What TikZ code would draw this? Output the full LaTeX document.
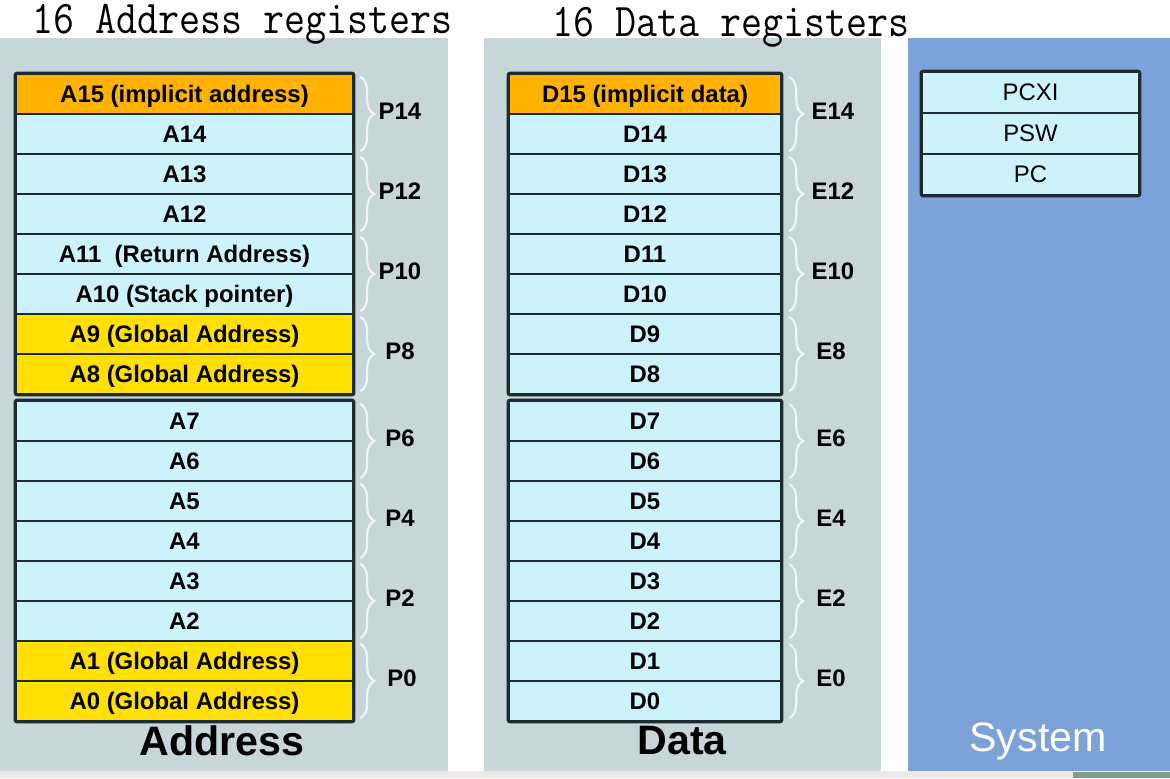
\documentclass[tikz,border=0pt]{standalone}
\usepackage{fontspec}
\setmainfont{Liberation Sans}
\usepackage{tikz}
\usetikzlibrary{decorations.pathreplacing}

\definecolor{panel}{HTML}{C6D6D9}
\definecolor{syspanel}{HTML}{7DA2D8}
\definecolor{regfill}{HTML}{CCF3FB}
\definecolor{implicit}{HTML}{FFB300}
\definecolor{global}{HTML}{FFE000}
\definecolor{regline}{HTML}{1E2A30}
\definecolor{bracecol}{HTML}{F2F6F6}
\definecolor{strip}{HTML}{EEE9E7}
\definecolor{stripgreen}{HTML}{7C9E8E}

\tikzset{
  areg/.style  = {draw=regline, line width=0.6pt, fill=regfill, inner sep=0pt,
                  minimum width=3.37cm, minimum height=0.4cm,
                  text height=4.6pt, text depth=0pt,
                  font=\fontsize{6.8}{8}\selectfont\bfseries},
  dreg/.style  = {areg, minimum width=2.72cm},
  sreg/.style  = {areg, minimum width=2.17cm, minimum height=0.41cm,
                  font=\fontsize{6.8}{8}\selectfont},
  block/.style = {draw=regline, line width=0.7pt, rounded corners=0.6pt},
  pairbrace/.style = {draw=bracecol, line width=0.6pt, decorate,
                      decoration={brace, amplitude=4pt}},
  pairlbl/.style   = {font=\fontsize{6.8}{8}\selectfont\bfseries},
  title/.style     = {anchor=base west, inner sep=0pt,
                      font=\ttfamily\fontsize{11.6}{13}\selectfont},
  group/.style     = {font=\fontsize{11.7}{14}\selectfont\bfseries},
  sysgroup/.style  = {white, font=\fontsize{11.7}{14}\selectfont}
}

\begin{document}
\begin{tikzpicture}[x=0.01cm, y=-0.01cm]
  \useasboundingbox (0,0) rectangle (1170,778);
  \fill[white] (0,0) rectangle (1170,778);
  % panels
  \fill[panel]    (0,38)   rectangle (448,771);
  \fill[panel]    (484,38) rectangle (881,771);
  \fill[syspanel] (908,38) rectangle (1170,771);
  \fill[strip]      (0,771)    rectangle (1170,778);
  \fill[stripgreen] (1073,772) rectangle (1170,778);

  \node[title] (atitle) at ( 32, 33){\scalebox{1}[1.15]{16 Address registers}};
  \node[title] (dtitle) at (552, 36){\scalebox{1}[1.15]{16 Data registers}};

  % address registers
  \node[areg, fill=implicit] (a15) at (184.5, 94){A15 (implicit address)};
  \node[areg]                (a14) at (184.5,134){A14};
  \node[areg]                (a13) at (184.5,174){A13};
  \node[areg]                (a12) at (184.5,214){A12};
  \node[areg]                (a11) at (184.5,254){A11~ (Return Address)};
  \node[areg]                (a10) at (184.5,294){A10 (Stack pointer)};
  \node[areg, fill=global]   (a9)  at (184.5,334){A9 (Global Address)};
  \node[areg, fill=global]   (a8)  at (184.5,374){A8 (Global Address)};
  \node[areg]                (a7)  at (184.5,421){A7};
  \node[areg]                (a6)  at (184.5,461){A6};
  \node[areg]                (a5)  at (184.5,501){A5};
  \node[areg]                (a4)  at (184.5,541){A4};
  \node[areg]                (a3)  at (184.5,581){A3};
  \node[areg]                (a2)  at (184.5,621){A2};
  \node[areg, fill=global]   (a1)  at (184.5,661){A1 (Global Address)};
  \node[areg, fill=global]   (a0)  at (184.5,701){A0 (Global Address)};
  \draw[block] (a15.north west) rectangle (a8.south east);
  \draw[block] (a7.north west)  rectangle (a0.south east);

  % data registers
  \node[dreg, fill=implicit] (d15) at (645, 94){D15 (implicit data)};
  \node[dreg]                (d14) at (645,134){D14};
  \node[dreg]                (d13) at (645,174){D13};
  \node[dreg]                (d12) at (645,214){D12};
  \node[dreg]                (d11) at (645,254){D11};
  \node[dreg]                (d10) at (645,294){D10};
  \node[dreg]                (d9)  at (645,334){D9};
  \node[dreg]                (d8)  at (645,374){D8};
  \node[dreg]                (d7)  at (645,421){D7};
  \node[dreg]                (d6)  at (645,461){D6};
  \node[dreg]                (d5)  at (645,501){D5};
  \node[dreg]                (d4)  at (645,541){D4};
  \node[dreg]                (d3)  at (645,581){D3};
  \node[dreg]                (d2)  at (645,621){D2};
  \node[dreg]                (d1)  at (645,661){D1};
  \node[dreg]                (d0)  at (645,701){D0};
  \draw[block] (d15.north west) rectangle (d8.south east);
  \draw[block] (d7.north west)  rectangle (d0.south east);

  % system registers
  \node[sreg] (pcxi) at (1030.5, 92.5){PCXI};
  \node[sreg] (psw)  at (1030.5,133.5){PSW};
  \node[sreg] (pc)   at (1030.5,174.5){PC};
  \draw[block] (pcxi.north west) rectangle (pc.south east);

  % pairs
  \draw[pairbrace] ([xshift=1.7pt,yshift=-1.1pt]a15.north east) -- ([xshift=1.7pt,yshift=1.1pt]a14.south east);
  \draw[pairbrace] ([xshift=1.7pt,yshift=-1.1pt]a13.north east) -- ([xshift=1.7pt,yshift=1.1pt]a12.south east);
  \draw[pairbrace] ([xshift=1.7pt,yshift=-1.1pt]a11.north east) -- ([xshift=1.7pt,yshift=1.1pt]a10.south east);
  \draw[pairbrace] ([xshift=1.7pt,yshift=-1.1pt]a9.north east)  -- ([xshift=1.7pt,yshift=1.1pt]a8.south east);
  \draw[pairbrace] ([xshift=1.7pt,yshift=-1.1pt]a7.north east)  -- ([xshift=1.7pt,yshift=1.1pt]a6.south east);
  \draw[pairbrace] ([xshift=1.7pt,yshift=-1.1pt]a5.north east)  -- ([xshift=1.7pt,yshift=1.1pt]a4.south east);
  \draw[pairbrace] ([xshift=1.7pt,yshift=-1.1pt]a3.north east)  -- ([xshift=1.7pt,yshift=1.1pt]a2.south east);
  \draw[pairbrace] ([xshift=1.7pt,yshift=-1.1pt]a1.north east)  -- ([xshift=1.7pt,yshift=1.1pt]a0.south east);
  \draw[pairbrace] ([xshift=2pt,yshift=-1.1pt]d15.north east) -- ([xshift=2pt,yshift=1.1pt]d14.south east);
  \draw[pairbrace] ([xshift=2pt,yshift=-1.1pt]d13.north east) -- ([xshift=2pt,yshift=1.1pt]d12.south east);
  \draw[pairbrace] ([xshift=2pt,yshift=-1.1pt]d11.north east) -- ([xshift=2pt,yshift=1.1pt]d10.south east);
  \draw[pairbrace] ([xshift=2pt,yshift=-1.1pt]d9.north east)  -- ([xshift=2pt,yshift=1.1pt]d8.south east);
  \draw[pairbrace] ([xshift=2pt,yshift=-1.1pt]d7.north east)  -- ([xshift=2pt,yshift=1.1pt]d6.south east);
  \draw[pairbrace] ([xshift=2pt,yshift=-1.1pt]d5.north east)  -- ([xshift=2pt,yshift=1.1pt]d4.south east);
  \draw[pairbrace] ([xshift=2pt,yshift=-1.1pt]d3.north east)  -- ([xshift=2pt,yshift=1.1pt]d2.south east);
  \draw[pairbrace] ([xshift=2pt,yshift=-1.1pt]d1.north east)  -- ([xshift=2pt,yshift=1.1pt]d0.south east);

  \node[pairlbl] (p14) at (400,111){P14};
  \node[pairlbl] (p12) at (400,191){P12};
  \node[pairlbl] (p10) at (400,271){P10};
  \node[pairlbl] (p8)  at (400,351){P8};
  \node[pairlbl] (p6)  at (400,438){P6};
  \node[pairlbl] (p4)  at (400,518){P4};
  \node[pairlbl] (p2)  at (400,598){P2};
  \node[pairlbl] (p0)  at (402,678){P0};
  \node[pairlbl] (e14) at (833,111){E14};
  \node[pairlbl] (e12) at (833,191){E12};
  \node[pairlbl] (e10) at (833,271){E10};
  \node[pairlbl] (e8)  at (831,351){E8};
  \node[pairlbl] (e6)  at (831,438){E6};
  \node[pairlbl] (e4)  at (831,518){E4};
  \node[pairlbl] (e2)  at (831,598){E2};
  \node[pairlbl] (e0)  at (831,678){E0};

  \node[group]    (address) at ( 222,741){Address};
  \node[group]    (data)    at ( 682,741){Data};
  \node[sysgroup] (system)  at (1038,741){System};
\end{tikzpicture}
\end{document}
